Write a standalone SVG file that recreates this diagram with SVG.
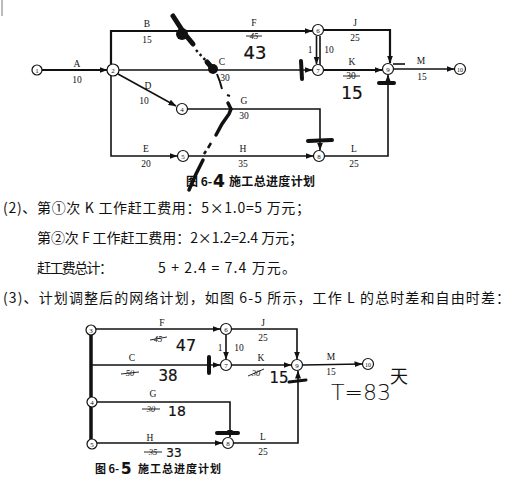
<svg xmlns="http://www.w3.org/2000/svg" width="520" height="488" viewBox="0 0 520 488">
<defs>
<marker id="ah" viewBox="0 0 8 6" refX="7.5" refY="3" markerWidth="8" markerHeight="6" markerUnits="userSpaceOnUse" orient="auto"><path d="M0,0 L8,3 L0,6 Z" fill="#111"/></marker>
</defs>
<style>
.ln{fill:none;stroke:#111;stroke-width:1.6}
.hv{fill:none;stroke:#111;stroke-width:2.2}
.nd{fill:#fff;stroke:#111;stroke-width:1.2}
.nt{font-family:"Liberation Serif",serif;font-size:7px;fill:#111;text-anchor:middle}
.lb{font-family:"Liberation Serif",serif;font-size:9.5px;fill:#111;text-anchor:middle}
.st{font-family:"Liberation Serif",serif;font-size:8.5px;fill:#111;text-anchor:middle;font-style:italic}
.hw{font-family:"DejaVu Sans",sans-serif;fill:#111;stroke:#111;stroke-width:0.2;text-anchor:middle}
.cap{font-family:"Noto Sans CJK SC",sans-serif;font-size:12px;font-weight:700;fill:#111}
.tx{font-family:"Noto Sans CJK SC",sans-serif;font-size:14px;fill:#111}
.bar{stroke:#111;stroke-width:4;stroke-linecap:round;fill:none}
.strike{stroke:#111;stroke-width:0.9}
</style>
<line x1="2" y1="0" x2="2" y2="16" stroke="#bbb" stroke-width="2"/>

<!-- ===== Figure 6-4 ===== -->
<g id="edges-top">
<line class="hv" x1="42" y1="70" x2="107" y2="70" marker-end="url(#ah)"/>
<path class="hv" d="M111,64 L111,31 L312,31" marker-end="url(#ah)"/>
<line class="ln" x1="119" y1="70" x2="312" y2="70" marker-end="url(#ah)"/>
<line class="ln" x1="118" y1="74" x2="176" y2="106" marker-end="url(#ah)"/>
<path class="ln" d="M111,76 L111,156 L177,156" marker-end="url(#ah)"/>
<path class="ln" d="M188,109 L320,109 L320,150" marker-end="url(#ah)"/>
<line class="ln" x1="189" y1="156" x2="313" y2="156" marker-end="url(#ah)"/>
<path class="hv" d="M324,30 L390,30 L390,63" marker-end="url(#ah)"/>
<line class="ln" x1="316.5" y1="36" x2="316.5" y2="64" marker-end="url(#ah)"/>
<line class="ln" x1="320" y1="36" x2="320" y2="66"/>
<line class="hv" x1="324" y1="70" x2="382" y2="70" marker-end="url(#ah)"/>
<line class="ln" x1="394" y1="69" x2="454" y2="69" marker-end="url(#ah)"/>
<path class="ln" d="M325,156 L388,156 L388,75" marker-end="url(#ah)"/>
<line x1="393" y1="64" x2="405" y2="64" stroke="#111" stroke-width="1.6"/>
</g>
<g id="n1"><circle class="nd" cx="37" cy="70" r="5"/><text class="nt" x="37" y="72.5">1</text></g>
<g id="n2"><circle class="nd" cx="113" cy="70" r="6"/><text class="nt" x="113" y="72.5">2</text></g>
<g id="n4"><circle class="nd" cx="182" cy="109" r="5.5"/><text class="nt" x="182" y="111.5">4</text></g>
<g id="n5"><circle class="nd" cx="183" cy="156" r="5.5"/><text class="nt" x="183" y="158.5">5</text></g>
<g id="n6"><circle class="nd" cx="318" cy="30" r="5.5"/><text class="nt" x="318" y="32.5">6</text></g>
<g id="n7"><circle class="nd" cx="318" cy="70" r="5.5"/><text class="nt" x="318" y="72.5">7</text></g>
<g id="n8"><circle class="nd" cx="319" cy="156" r="5.5"/><text class="nt" x="319" y="158.5">8</text></g>
<g id="n9"><circle class="nd" cx="388" cy="69" r="5.5"/><text class="nt" x="388" y="71.5">9</text></g>
<g id="n10"><circle class="nd" cx="460" cy="69" r="5.5"/><text class="nt" x="460" y="71.5" style="font-size:6px">10</text></g>

<g id="labels-top">
<text class="lb" x="77" y="67">A</text><text class="lb" x="77" y="83">10</text>
<text class="lb" x="147" y="27">B</text><text class="lb" x="147" y="43">15</text>
<text class="lb" x="254" y="26">F</text>
<text class="st" x="254" y="39">45</text><line class="strike" x1="246" y1="36" x2="262" y2="36"/>
<text class="hw" x="255" y="59" style="font-size:18px">43</text>
<text class="lb" x="355" y="26">J</text><text class="lb" x="355" y="41">25</text>
<text class="lb" x="310" y="53">1</text><text class="lb" x="329" y="53">10</text>
<text class="lb" x="222" y="65">C</text><text class="lb" x="225" y="81">30</text>
<text class="lb" x="352" y="65">K</text>
<text class="lb" x="351" y="79">30</text><line class="strike" x1="343" y1="76" x2="360" y2="76"/>
<text class="hw" x="352" y="99" style="font-size:17px">15</text>
<text class="lb" x="421" y="64">M</text><text class="lb" x="422" y="80">15</text>
<text class="lb" x="148" y="89">D</text><text class="lb" x="144" y="104">10</text>
<text class="lb" x="244" y="104">G</text><text class="lb" x="244" y="119">30</text>
<text class="lb" x="146" y="152">E</text><text class="lb" x="146" y="167">20</text>
<text class="lb" x="243" y="152">H</text><text class="lb" x="243" y="167">35</text>
<text class="lb" x="354" y="152">L</text><text class="lb" x="354" y="167">25</text>
</g>
<g id="marks-top">
<line class="bar" x1="301" y1="61" x2="302" y2="79"/>
<line class="bar" x1="379" y1="83" x2="394" y2="83"/>
<line class="bar" x1="308" y1="141" x2="332" y2="140"/>
<path d="M173,16 L184,33 L193,44" fill="none" stroke="#111" stroke-width="5" stroke-linecap="round"/>
<circle cx="182" cy="34" r="6" fill="#111"/>
<path d="M196,50 L207,62" fill="none" stroke="#111" stroke-width="2.5" stroke-dasharray="2.5 3"/>
<path d="M207,62 L214,70" fill="none" stroke="#111" stroke-width="5" stroke-linecap="round"/>
<circle cx="213" cy="69" r="5" fill="#111"/>
<path d="M217,74 L220,82 L222,89" fill="none" stroke="#111" stroke-width="2"/>
<line x1="227" y1="95" x2="230" y2="96" stroke="#111" stroke-width="2"/>
<path d="M228,103 L231,109 L229,114 L222,124 L216,135" fill="none" stroke="#111" stroke-width="3.5" stroke-linecap="round"/>
<path d="M211,143 L208,148 M206,151 L204,154" fill="none" stroke="#111" stroke-width="2.5"/>
<path d="M203,160 L196,174 L189,190" fill="none" stroke="#111" stroke-width="3.5" stroke-linecap="round"/>
</g>
<g id="cap-top">
<text class="cap" x="186" y="186">图 6-</text>
<text class="hw" x="213" y="187" style="font-size:17px;font-weight:700;text-anchor:start">4</text>
<text class="cap" x="229" y="186" textLength="86" lengthAdjust="spacing">施工总进度计划</text>
</g>

<!-- ===== Text ===== -->
<g id="text-body">
<text class="tx" x="3" y="213" textLength="307" lengthAdjust="spacing">(2)、第①次 K 工作赶工费用：5×1.0=5 万元；</text>
<text class="tx" x="37" y="243" textLength="266" lengthAdjust="spacing">第②次 F 工作赶工费用：2×1.2=2.4 万元；</text>
<text class="tx" x="37" y="273" textLength="76" lengthAdjust="spacing">赶工费总计：</text>
<text class="tx" x="158" y="273" textLength="138" lengthAdjust="spacing">5 + 2.4 = 7.4 万元。</text>
<text class="tx" x="3" y="303" textLength="507" lengthAdjust="spacing">(3)、计划调整后的网络计划，如图 6-5 所示，工作 L 的总时差和自由时差：</text>
</g>

<!-- ===== Figure 6-5 ===== -->
<g id="edges-bottom">
<line x1="91" y1="326" x2="91" y2="446" stroke="#111" stroke-width="3.5"/>
<line class="ln" x1="95" y1="329" x2="220" y2="329" marker-end="url(#ah)"/>
<path class="ln" d="M232,329 L297,329 L297,359" marker-end="url(#ah)"/>
<line class="ln" x1="226" y1="335" x2="226" y2="359" marker-end="url(#ah)"/>
<line class="ln" x1="92" y1="365" x2="220" y2="365" marker-end="url(#ah)"/>
<line class="ln" x1="232" y1="365" x2="291" y2="365" marker-end="url(#ah)"/>
<line class="ln" x1="303" y1="365" x2="362" y2="364" marker-end="url(#ah)"/>
<path class="ln" d="M97,402 L230,402 L230,437" marker-end="url(#ah)"/>
<line class="ln" x1="97" y1="443" x2="222" y2="443" marker-end="url(#ah)"/>
<path class="ln" d="M234,443 L298,443 L298,371" marker-end="url(#ah)"/>
</g>
<g id="b3"><circle class="nd" cx="91" cy="330" r="5"/><text class="nt" x="91" y="332.5">3</text></g>
<g id="b4"><circle class="nd" cx="92" cy="402" r="5"/><text class="nt" x="92" y="404.5">4</text></g>
<g id="b5"><circle class="nd" cx="92" cy="444" r="5"/><text class="nt" x="92" y="446.5">5</text></g>
<g id="b6"><circle class="nd" cx="226" cy="329" r="5.5"/><text class="nt" x="226" y="331.5">6</text></g>
<g id="b7"><circle class="nd" cx="226" cy="365" r="5.5"/><text class="nt" x="226" y="367.5">7</text></g>
<g id="b8"><circle class="nd" cx="228" cy="443" r="5.5"/><text class="nt" x="228" y="445.5">8</text></g>
<g id="b9"><circle class="nd" cx="297" cy="365" r="5.5"/><text class="nt" x="297" y="367.5">9</text></g>
<g id="b10"><circle class="nd" cx="368" cy="364" r="5.5"/><text class="nt" x="368" y="366.5" style="font-size:6px">10</text></g>

<g id="labels-bottom">
<text class="lb" x="162" y="326">F</text>
<text class="st" x="158" y="342">45</text><line class="strike" x1="150" y1="340" x2="167" y2="337"/>
<text class="hw" x="186" y="351" style="font-size:16px">47</text>
<text class="lb" x="263" y="326">J</text><text class="lb" x="263" y="341">25</text>
<text class="lb" x="220" y="351">1</text><text class="lb" x="239" y="351">10</text>
<text class="lb" x="132" y="361">C</text>
<text class="st" x="130" y="376">50</text><line class="strike" x1="121" y1="374" x2="139" y2="372"/>
<text class="hw" x="168" y="381" style="font-size:15px">38</text>
<text class="lb" x="261" y="361">K</text>
<text class="st" x="256" y="376">30</text><line class="strike" x1="248" y1="376" x2="264" y2="369"/>
<text class="hw" x="279" y="383" style="font-size:15px">15</text>
<text class="lb" x="331" y="360">M</text><text class="lb" x="331" y="375">15</text>
<text class="lb" x="153" y="397">G</text>
<text class="st" x="151" y="412">30</text><line class="strike" x1="142" y1="409" x2="160" y2="409"/>
<text class="hw" x="177" y="416" style="font-size:14px">18</text>
<text class="lb" x="150" y="441">H</text>
<text class="st" x="153" y="455">35</text><line class="strike" x1="144" y1="452" x2="162" y2="452"/>
<text class="hw" x="174" y="457" style="font-size:12px">33</text>
<text class="lb" x="263" y="440">L</text><text class="lb" x="263" y="455">25</text>
<text class="hw" x="361" y="400" style="font-size:22px;stroke-width:0;font-weight:300">T=83</text>
<text class="hw" x="399" y="383" style="font-family:'Noto Sans CJK SC',sans-serif;font-size:18px;stroke-width:0">天</text>
</g>
<g id="marks-bottom">
<line class="bar" x1="209" y1="357" x2="209" y2="373"/>
<line class="bar" x1="289" y1="382" x2="306" y2="380" style="stroke-width:3"/>
<line class="bar" x1="217" y1="433" x2="238" y2="433"/>
</g>
<g id="cap-bottom">
<text class="cap" x="95" y="473" style="font-size:11px">图 6-</text>
<text class="hw" x="121" y="474" style="font-size:15px;font-weight:700;text-anchor:start">5</text>
<text class="cap" x="138" y="473" textLength="83" lengthAdjust="spacing" style="font-size:11px">施工总进度计划</text>
</g>
</svg>
